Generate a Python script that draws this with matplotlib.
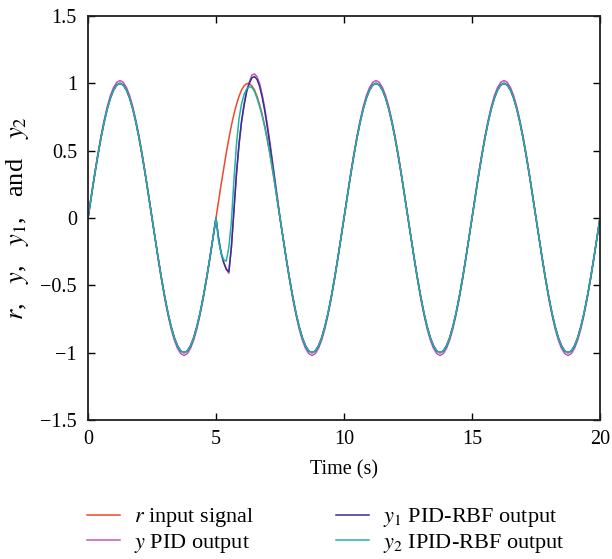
import numpy as np
import matplotlib
matplotlib.use("Agg")
import matplotlib.pyplot as plt

# Time grid (s): coarse, fine around the disturbance at t = 5 s, coarse
time_s = np.concatenate([np.linspace(0, 4.875, 40),
                         np.linspace(5.0, 7.4, 25),
                         np.linspace(7.5, 20.0, 101)])

# Half-wave readings (0.125 s steps) of the undisturbed tracking
r_up = [0, .156, .309, .454, .588, .707, .809, .891, .951, .988,
        1, .988, .951, .891, .809, .707, .588, .454, .309, .156]
r_down = [0, -.156, -.309, -.454, -.588, -.707, -.809, -.891, -.951, -.988,
          -1, -.988, -.951, -.891, -.809, -.707, -.588, -.454, -.309, -.156]
y_up = [0, .159, .315, .463, .60, .721, .825, .909, .970, 1.008,
        1.02, 1.008, .970, .909, .825, .721, .60, .463, .315, .159]
y_down = [0, -.159, -.315, -.463, -.60, -.721, -.825, -.909, -.970, -1.008,
          -1.02, -1.008, -.970, -.909, -.825, -.721, -.60, -.463, -.315, -.159]

# Disturbance window 5.0 .. 7.4 s (0.1 s steps)
r_dist = [0, .125, .249, .368, .482, .588, .685, .771, .844, .905, .951, .982, .998,
          .998, .982, .951, .905, .844, .771, .685, .588, .482, .368, .249, .125]
y_dist = [0, -.15, -.26, -.33, -.38, -.41, -.22, .05, .33, .55, .72, .85, .95,
          1.01, 1.06, 1.07, 1.05, 1.0, .92, .82, .70, .57, .43, .29, .15]
y1_dist = [0, -.15, -.26, -.33, -.38, -.40, -.22, .05, .33, .55, .72, .84, .94,
           1.0, 1.04, 1.05, 1.03, .98, .90, .80, .68, .55, .41, .27, .13]
y2_dist = [0, -.17, -.26, -.31, -.32, -.22, -.03, .28, .55, .74, .85, .92, .96,
           .975, .97, .94, .89, .83, .76, .68, .585, .48, .37, .25, .125]

r_signal = (r_up + r_down + r_dist
            + r_down + r_up + r_down + r_up + r_down + [0])
y_pid = (y_up + y_down + y_dist
         + y_down + y_up + y_down + y_up + y_down + [0])
y1_pid_rbf = (r_up + r_down + y1_dist
              + r_down + r_up + r_down + r_up + r_down + [0])
y2_ipid_rbf = (r_up + r_down + y2_dist
               + r_down + r_up + r_down + r_up + r_down + [0])

labels = [r"$r$ input signal", r"$y$ PID output",
          r"$y_1$ PID-RBF output", r"$y_2$ IPID-RBF output"]
colors = ["#EC4A2C", "#C455B4", "#3A2C95", "#1FB3A8"]

plt.rcParams["font.family"] = ["Liberation Serif", "DejaVu Serif"]
plt.rcParams["mathtext.fontset"] = "stix"
plt.rcParams["font.size"] = 14.5

fig = plt.figure(figsize=(6.12, 5.59), dpi=100)
ax = fig.add_axes([0.1438, 0.2487, 0.8366, 0.7227])

series = [r_signal, y_pid, y1_pid_rbf, y2_ipid_rbf]
handles = []
for vals, c, lab in zip(series, colors, labels):
    h, = ax.plot(time_s, vals, color=c, lw=1.1, label=lab)
    handles.append(h)

ax.set_xlim(0, 20)
ax.set_ylim(-1.5, 1.5)
ax.set_xticks([0, 5, 10, 15, 20])
ax.set_yticks([-1.5, -1, -0.5, 0, 0.5, 1, 1.5])
ax.set_yticklabels(["\u22121.5", "\u22121", "\u22120.5", "0", "0.5", "1", "1.5"])
ax.tick_params(direction="in", top=True, right=True, length=5, width=1.0)
ax.tick_params(axis="x", pad=7)
ax.tick_params(axis="y", pad=8)
for s in ax.spines.values():
    s.set_linewidth(1.3)
    s.set_color("#231f20")

ax.set_xlabel("Time (s)", labelpad=8)
ax.set_ylabel(r"$r$,   $y$,   $y_1$,   and   $y_2$", fontsize=19, labelpad=7)

fig.legend(handles, labels, ncol=2, frameon=False, loc="upper left",
           bbox_to_anchor=(0.142, 0.094), handlelength=1.5, handletextpad=0.6,
           columnspacing=3.7, labelspacing=0.1, borderaxespad=0, borderpad=0,
           fontsize=16)

fig.savefig("out.png", dpi=100)
